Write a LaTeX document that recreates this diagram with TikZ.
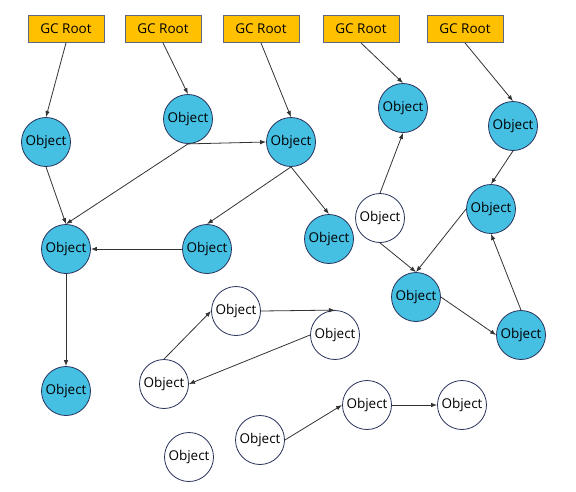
\documentclass[tikz,border=0pt]{standalone}
\usepackage{fontspec}
\setmainfont{Open Sans}
\usepackage{xcolor}
\usetikzlibrary{arrows.meta}
\definecolor{rootfill}{RGB}{255,192,0}
\definecolor{objfill}{RGB}{69,192,227}
\definecolor{objline}{RGB}{40,50,92}

\begin{document}
\begin{tikzpicture}[x=1pt,y=-1pt,
    root/.style={rectangle,draw=objline!75,line width=0.8pt,fill=rootfill,minimum width=76pt,minimum height=27pt,inner sep=0pt,font=\fontsize{13.5}{15}\selectfont},
    obj/.style={circle,draw=objline,line width=0.8pt,fill=objfill,minimum size=49pt,inner sep=0pt,font=\fontsize{13.5}{15}\selectfont},
    dead/.style={obj,fill=white},
    ref/.style={draw=black!80,line width=0.8pt,-{Latex[length=6pt,width=4.5pt]}}]
    \useasboundingbox (0,0) rectangle (576,491);
    \foreach \i/\x in {1/66,2/163,3/261,4/361,5/465}
        \node[root] (r\i) at (\x,29) {GC Root};
    \foreach \i/\x/\y in {1/46/142,2/188/119,3/291/142,4/403/108,5/513/126,6/66/249,7/207/249,8/329/239,9/491/209,10/416/297,11/521/335,12/66/391}
        \node[obj] (o\i) at (\x,\y) {Object};
    \foreach \i/\x/\y in {1/380/218,2/236/311,3/335/335,4/164/384,5/367/405,6/462/405,7/260/440,8/189/457}
        \node[dead] (g\i) at (\x,\y) {Object};
    \draw[ref] (r1.south) -- (o1.north);
    \draw[ref] (r2.south) -- (o2.north);
    \draw[ref] (r3.south) -- (o3.north);
    \draw[ref] (r4.south) -- (o4.north);
    \draw[ref] (r5.south) -- (o5.north);
    \draw[ref] (o1.south) -- (o6.north);
    \draw[ref] (o2.south) -- (o6.north);
    \draw[ref] (o2.south) -- (o3.west);
    \draw[ref] (o3.south) -- (o7.north);
    \draw[ref] (o3.south) -- (o8.north);
    \draw[ref] (o7.west) -- (o6.east);
    \draw[ref] (o6.south) -- (o12.north);
    \draw[ref] (o5.south) -- (o9.north);
    \draw[ref] (o9.west) -- (o10.north);
    \draw[ref] (o10.east) -- (o11.west);
    \draw[ref] (o11.north) -- (o9.south);
    \draw[ref] (g1.north) -- (o4.south);
    \draw[ref] (g1.south) -- (o10.north);
    \draw[ref] (g4.north) -- (g2.west);
    \draw[ref] (g2.east) -- (g3.north);
    \draw[ref] (g3.west) -- (g4.east);
    \draw[ref] (g7.east) -- (g5.west);
    \draw[ref] (g5.east) -- (g6.west);
\end{tikzpicture}
\end{document}
